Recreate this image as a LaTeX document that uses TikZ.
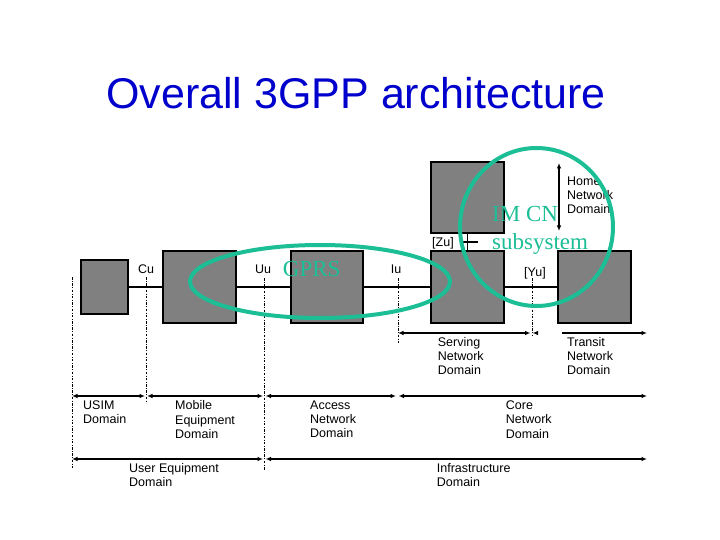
\documentclass[tikz,border=0pt]{standalone}
\usepackage{fontspec}
\setmainfont{Liberation Sans}
\newfontfamily\serifface{Liberation Serif}
\usetikzlibrary{arrows.meta,calc}
\definecolor{titleblue}{RGB}{0,0,204}
\definecolor{tealmark}{RGB}{28,190,150}
\definecolor{boxgray}{RGB}{128,128,128}
\begin{document}
\begin{tikzpicture}[x=1pt,y=-1pt,
  box/.style={draw=black, fill=boxgray, line width=1.2pt, inner sep=0pt},
  link/.style={draw=black, line width=1.1pt},
  lbl/.style={font=\fontsize{12.5}{14.3}\selectfont, inner sep=0pt, align=left, anchor=north west},
  iflbl/.style={font=\fontsize{12.5}{14.3}\selectfont, inner sep=0pt, anchor=base},
  bound/.style={draw=black, line width=0.8pt, dash pattern=on 2.5pt off 1.5pt on 0.8pt off 1.5pt},
  dimarrow/.style={line width=1.1pt, {Latex[length=5.5pt,width=4.5pt]}-{Latex[length=5.5pt,width=4.5pt]}},
  rightarrow/.style={line width=1.1pt, -{Latex[length=5.5pt,width=4.5pt]}},
  leftarrow/.style={line width=1.1pt, {Latex[length=5.5pt,width=4.5pt]}-},
  hilite/.style={draw=tealmark, line width=4pt},
  marktext/.style={font=\serifface\fontsize{23}{27.5}\selectfont, text=tealmark, inner sep=0pt}
]
\fill[white] (0,0) rectangle (720,540);
\useasboundingbox (0,0) rectangle (720,540);

% title
\node[font=\fontsize{43}{50}\selectfont, text=titleblue, anchor=base] (title) at (356,109) {Overall 3GPP architecture};

% boxes
\node[box, minimum width=47pt, minimum height=54pt] (usim) at (104.5,287) {};
\node[box, minimum width=73pt, minimum height=72pt] (me) at (199.5,287) {};
\node[box, minimum width=72pt, minimum height=72pt] (an) at (327,287) {};
\node[box, minimum width=73pt, minimum height=72pt] (scn) at (467.5,287) {};
\node[box, minimum width=73pt, minimum height=71pt] (hcn) at (467.5,197.5) {};
\node[box, minimum width=73pt, minimum height=72pt] (tcn) at (594.5,287) {};

% links
\draw[link] (usim.east) -- (me.west);
\draw[link] (me.east) -- (an.west);
\draw[link] (an.east) -- (scn.west);
\draw[link] (scn.east) -- (tcn.west);
\draw[link] (hcn.south) -- (scn.north);
\coordinate (zl) at (460,242);
\coordinate (zr) at (478,242);
\draw[link] (zl) -- (zr);

% interface labels
\node[iflbl] (cu) at (146,273.5) {Cu};
\node[iflbl] (uu) at (263,273.5) {Uu};
\node[iflbl] (iu) at (396,273.5) {Iu};
\node[iflbl] (yu) at (535,276) {[Yu]};
\node[iflbl] (zu) at (443,246.5) {[Zu]};

% boundary lines
\coordinate (b0t) at (72,277);  \coordinate (b0b) at (72,468);
\coordinate (b1t) at (146,277); \coordinate (b1b) at (146,403);
\coordinate (b2t) at (264,278); \coordinate (b2b) at (264,470);
\coordinate (b3t) at (398,278); \coordinate (b3b) at (398,343);
\coordinate (b4t) at (532,278); \coordinate (b4b) at (532,335);
\draw[bound] (b0t) -- (b0b);
\draw[bound] (b1t) -- (b1b);
\draw[bound] (b2t) -- (b2b);
\draw[bound] (b3t) -- (b3b);
\draw[bound] (b4t) -- (b4b);

% home network arrow
\coordinate (ht) at (559,163);
\coordinate (hb) at (559,231);
\draw[dimarrow] (ht) -- (hb);
\node[lbl] (homelbl) at (567,176.5) {Home\\Network\\Domain};

% row 1
\coordinate (s1a) at (398,333); \coordinate (s1b) at (530.5,333);
\coordinate (s1c) at (532.5,333); \coordinate (s1d) at (538,333);
\coordinate (t1a) at (562,333); \coordinate (t1b) at (647,333);
\draw[dimarrow] (s1a) -- (s1b);
\draw[leftarrow] (s1c) -- (s1d);
\draw[rightarrow] (t1a) -- (t1b);
\node[lbl] (servlbl) at (437.7,337) {Serving\\Network\\Domain};
\node[lbl] (translbl) at (567,337) {Transit\\Network\\Domain};

% row 2
\coordinate (r2a) at (72,396); \coordinate (r2b) at (145,396);
\coordinate (r2c) at (147,396); \coordinate (r2d) at (263,396);
\coordinate (r2e) at (265.5,396); \coordinate (r2f) at (396,396);
\coordinate (r2g) at (398.5,396); \coordinate (r2h) at (647,396);
\draw[dimarrow] (r2a) -- (r2b);
\draw[dimarrow] (r2c) -- (r2d);
\draw[dimarrow] (r2e) -- (r2f);
\draw[dimarrow] (r2g) -- (r2h);
\node[lbl] (usimlbl) at (83,400.5) {USIM\\Domain};
\node[lbl] (melbl) at (175,400.5) {Mobile\\Equipment\\Domain};
\node[lbl] (anlbl) at (310,400.5) {Access\\Network\\Domain};
\node[lbl] (cnlbl) at (505.7,400.5) {Core\\Network\\Domain};

% row 3
\coordinate (r3a) at (72,459); \coordinate (r3b) at (263,459);
\coordinate (r3c) at (265.5,459); \coordinate (r3d) at (647,459);
\draw[dimarrow] (r3a) -- (r3b);
\draw[dimarrow] (r3c) -- (r3d);
\node[lbl] (uelbl) at (129,463) {User Equipment\\Domain};
\node[lbl] (inflbl) at (436.7,463) {Infrastructure\\Domain};

% highlight marks
\draw[hilite] (320,281.5) ellipse [x radius=130pt, y radius=36.5pt];
\draw[hilite] (536.5,227) ellipse [x radius=76.5pt, y radius=79pt];
\node[marktext, anchor=base west] (gprs) at (282.7,276) {GPRS};
\node[marktext, anchor=north west, align=left] (imcn) at (492,206.5) {IM CN\\subsystem};
\end{tikzpicture}
\end{document}
